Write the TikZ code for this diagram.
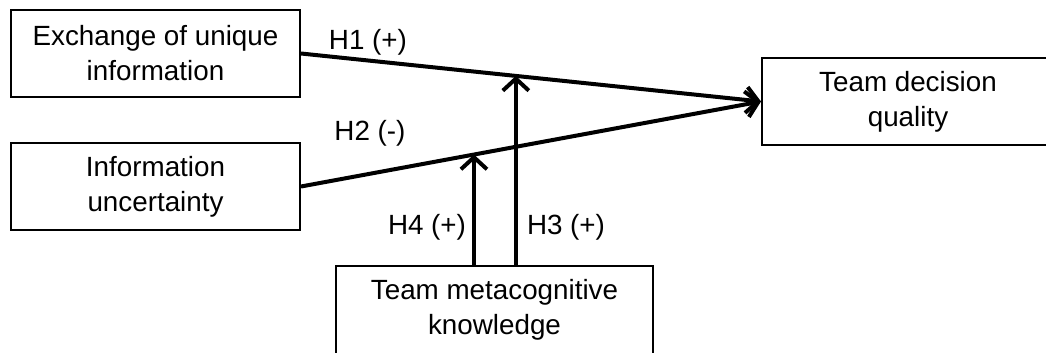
\documentclass[tikz,border=0pt]{standalone}
\usepackage{fontspec}
\setmainfont{Liberation Sans}
\usetikzlibrary{arrows.meta}
\tikzset{
  factor/.style={draw=black, line width=2pt, align=center,
    minimum width=289pt, minimum height=87pt, inner sep=0pt},
  effect/.style={line width=4pt, -{Straight Barb[length=12pt,width=26pt,line width=4pt]}},
  hyp/.style={inner sep=0pt}
}
\begin{document}
\begin{tikzpicture}[x=1pt, y=-1pt, font=\fontsize{27.8}{35}\selectfont]
  \useasboundingbox (0,0) rectangle (1046,353);
  %% Factors
  \node[factor] (exchange) at (155.5,53.5) {Exchange of unique\\information};
  \node[factor] (uncert) at (155.5,186.5) {Information\\uncertainty};
  \node[factor, minimum width=292pt] (quality) at (908,101.5) {Team decision\\quality};
  \node[factor, minimum width=317pt, minimum height=88pt] (meta) at (494.5,310) {Team metacognitive\\knowledge};
  %% Main effects
  \draw[effect] (exchange.east) -- coordinate[pos=.467] (modA) (quality.west);
  \draw[effect] (uncert.east) -- coordinate[pos=.376] (modB) (quality.west);
  %% Moderation
  \draw[effect] (modA |- meta.north) -- (modA);
  \draw[effect] (modB |- meta.north) -- (modB);
  %% Labels
  \node[hyp] (h1) at (368,42) {H1 (+)};
  \node[hyp] (h2) at (370,133) {H2 (-)};
  \node[hyp] (h4) at (427,227) {H4 (+)};
  \node[hyp] (h3) at (566,227) {H3 (+)};
\end{tikzpicture}
\end{document}
